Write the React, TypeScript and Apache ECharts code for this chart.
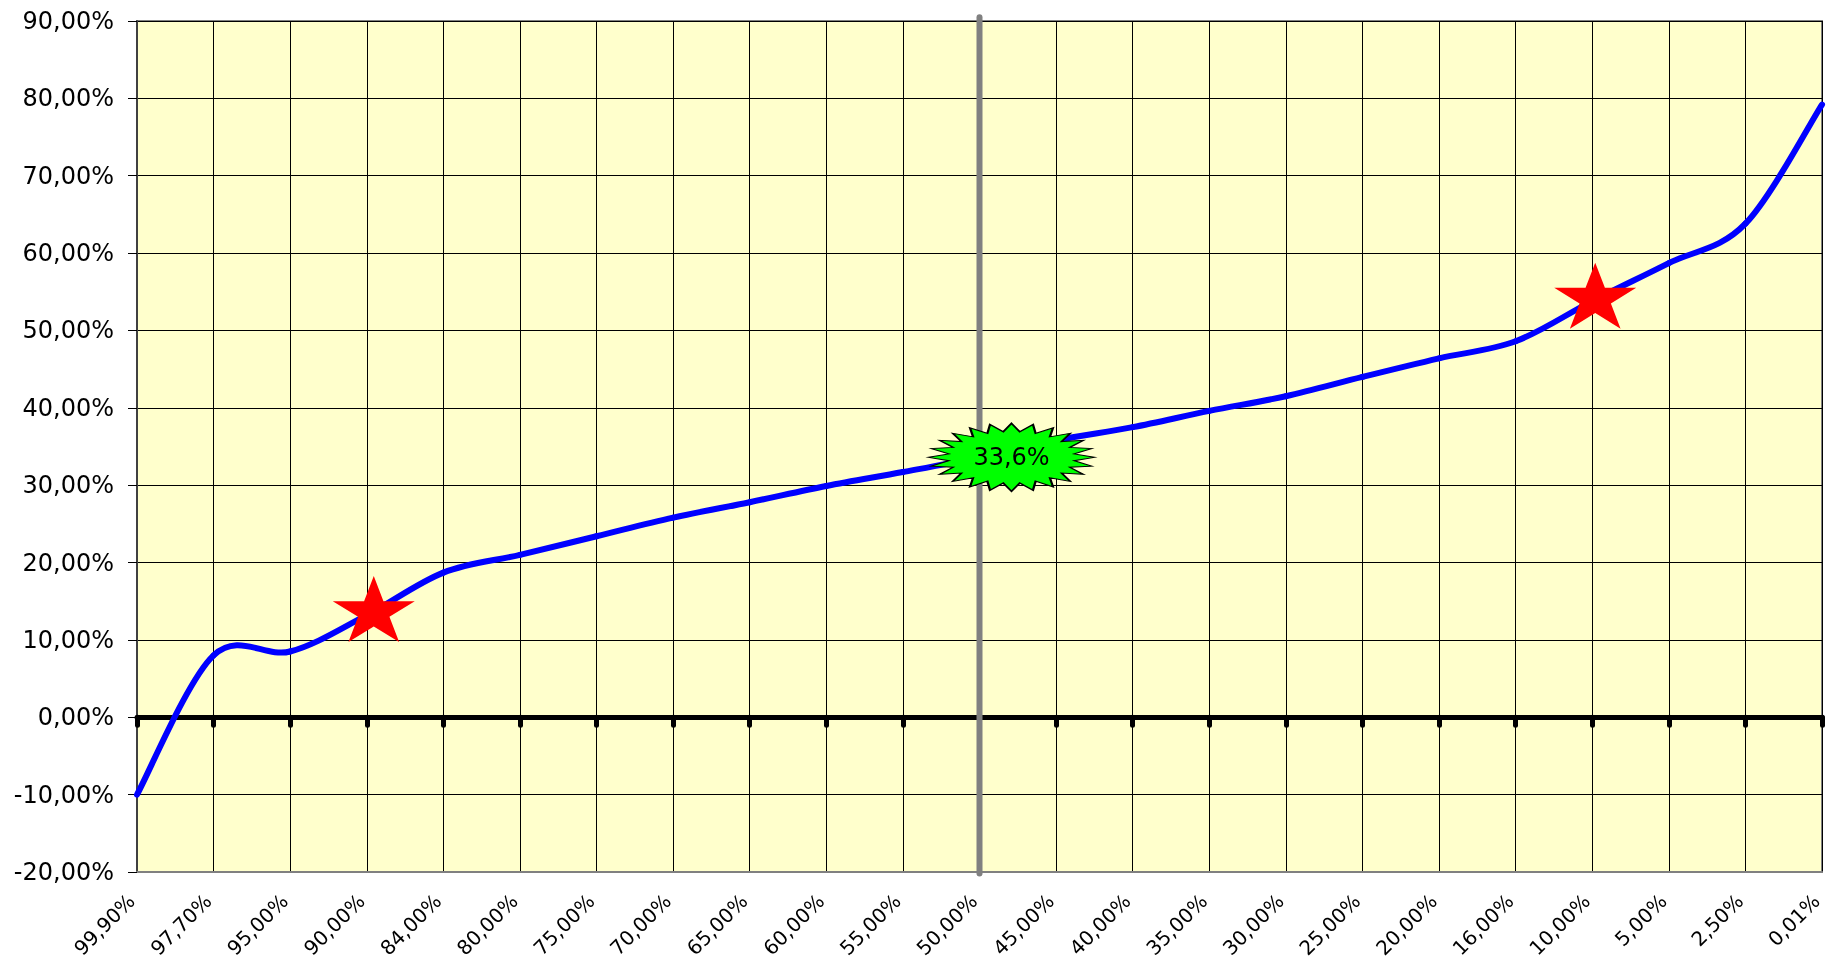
import React, { useEffect, useRef } from 'react';
import * as echarts from 'echarts';

// ---- data ----
const categories = [
  '99,90%', '97,70%', '95,00%', '90,00%', '84,00%', '80,00%', '75,00%', '70,00%',
  '65,00%', '60,00%', '55,00%', '50,00%', '45,00%', '40,00%', '35,00%', '30,00%',
  '25,00%', '20,00%', '16,00%', '10,00%', '5,00%', '2,50%', '0,01%',
];
const returns = [
  -10.0, 8.0, 8.5, 13.2, 18.7, 21.0, 23.4, 25.8, 27.8, 29.9, 31.7, 33.6,
  35.8, 37.5, 39.6, 41.5, 44.0, 46.4, 48.6, 53.8, 58.7, 63.8, 79.2,
];
const yMin = -20;
const yMax = 90;
const yInterval = 10;
const starMarks: [string, number][] = [['90,00%', 14.0], ['10,00%', 54.5]];
const medianMark: [string, number] = ['50,00%', 33.6];
const medianLabel = '33,6%';
const dividerCategory = '50,00%';
const dividerRange = [-20.2, 90.5];

// ---- shape helpers ----
function starPath(points: number, inner: number): string {
  let d = '';
  for (let i = 0; i < points * 2; i++) {
    const r = i % 2 === 0 ? 1 : inner;
    const a = -Math.PI / 2 + (i * Math.PI) / points;
    const x = (r * Math.cos(a)).toFixed(4);
    const y = (r * Math.sin(a)).toFixed(4);
    d += (i === 0 ? 'M' : 'L') + x + ' ' + y + ' ';
  }
  return 'path://' + d + 'Z';
}

const FONT = 'DejaVu Sans';

// Excel-like (Catmull-Rom) smoothing, drawn from the axis coordinates of the data
function renderSmoothLine(params: any, api: any) {
  if (params.dataIndex !== 0) return null;
  const pts = returns.map((v, i) => api.coord([i, v]));
  const children: any[] = [];
  for (let i = 0; i < pts.length - 1; i++) {
    const p0 = pts[i - 1] || pts[i];
    const p1 = pts[i];
    const p2 = pts[i + 1];
    const p3 = pts[i + 2] || pts[i + 1];
    children.push({
      type: 'bezierCurve',
      shape: {
        x1: p1[0],
        y1: p1[1],
        cpx1: p1[0] + (p2[0] - p0[0]) / 6,
        cpy1: p1[1] + (p2[1] - p0[1]) / 6,
        cpx2: p2[0] - (p3[0] - p1[0]) / 6,
        cpy2: p2[1] - (p3[1] - p1[1]) / 6,
        x2: p2[0],
        y2: p2[1],
      },
      style: { stroke: '#0000FF', lineWidth: 6, fill: null, lineCap: 'round' },
    });
  }
  return { type: 'group', children };
}

export default function App() {
  const ref = useRef<HTMLDivElement>(null);
  useEffect(() => {
    if (!ref.current) return;
    const chart = echarts.init(ref.current, null, { renderer: 'svg' });
    const fmt = (v: number) => v.toFixed(2).replace('.', ',') + '%';
    chart.setOption({
      animation: false,
      textStyle: { fontFamily: FONT },
      grid: {
        left: 137,
        right: 12,
        top: 21,
        bottom: 89,
        show: true,
        backgroundColor: '#FFFFCC',
        borderColor: '#808080',
        borderWidth: 2,
        outerBoundsMode: 'none',
      },
      xAxis: [
        {
          type: 'category',
          data: categories,
          boundaryGap: false,
          position: 'bottom',
          axisLine: { show: true, onZero: false, lineStyle: { color: '#808080', width: 2 } },
          axisTick: { show: false },
          axisLabel: {
            interval: 0,
            rotate: 45,
            fontSize: 20,
            color: '#000',
            fontFamily: FONT,
            margin: 20,
            padding: [0, 8, 0, 0],
          },
          splitLine: { show: true, lineStyle: { color: '#000', width: 1 } },
        },
        {
          type: 'category',
          data: categories,
          boundaryGap: false,
          position: 'top',
          axisLine: { show: true, onZero: true, lineStyle: { color: '#000', width: 5 } },
          axisTick: {
            show: true,
            inside: true,
            interval: 0,
            length: 8,
            lineStyle: { color: '#000', width: 5, cap: 'round' },
          },
          axisLabel: { show: false },
          splitLine: { show: false },
        },
      ],
      yAxis: {
        type: 'value',
        min: yMin,
        max: yMax,
        interval: yInterval,
        axisLine: { show: true, lineStyle: { color: '#404040', width: 2 } },
        axisTick: { show: true, length: 9, lineStyle: { color: '#000', width: 1 } },
        axisLabel: {
          formatter: fmt,
          fontSize: 24,
          color: '#000',
          fontFamily: FONT,
          margin: 23,
        },
        splitLine: { show: true, lineStyle: { color: '#000', width: 1 } },
      },
      series: [
        {
          type: 'custom',
          data: returns.map((v, i) => [i, v]),
          encode: { x: 0, y: 1 },
          renderItem: renderSmoothLine,
          clip: false,
          z: 3,
        },
        {
          type: 'line',
          data: dividerRange.map((v) => [dividerCategory, v]),
          symbol: 'none',
          clip: false,
          lineStyle: { color: '#808080', width: 6, cap: 'round' },
          z: 4,
        },
        {
          type: 'scatter',
          data: starMarks.map((p, i) => ({ value: p, symbolOffset: [i === 0 ? 7 : 3, 0] })),
          symbol: starPath(5, 0.382),
          symbolSize: [82, 66],
          itemStyle: { color: '#FF0000', opacity: 1 },
          z: 5,
        },
        {
          type: 'scatter',
          data: [{ value: medianMark, symbolOffset: [32, 0] }],
          symbol: starPath(24, 0.76),
          symbolSize: [166, 68],
          itemStyle: { color: '#00FF00', borderColor: '#000', borderWidth: 1.5, opacity: 1 },
          label: {
            show: true,
            position: 'inside',
            formatter: medianLabel,
            fontSize: 24,
            color: '#000',
            fontFamily: FONT,
          },
          z: 6,
        },
      ],
    });
    return () => chart.dispose();
  }, []);
  return (
    <div
      ref={ref}
      style={{ position: 'fixed', left: 0, top: 0, width: 1834, height: 961 }}
    />
  );
}
